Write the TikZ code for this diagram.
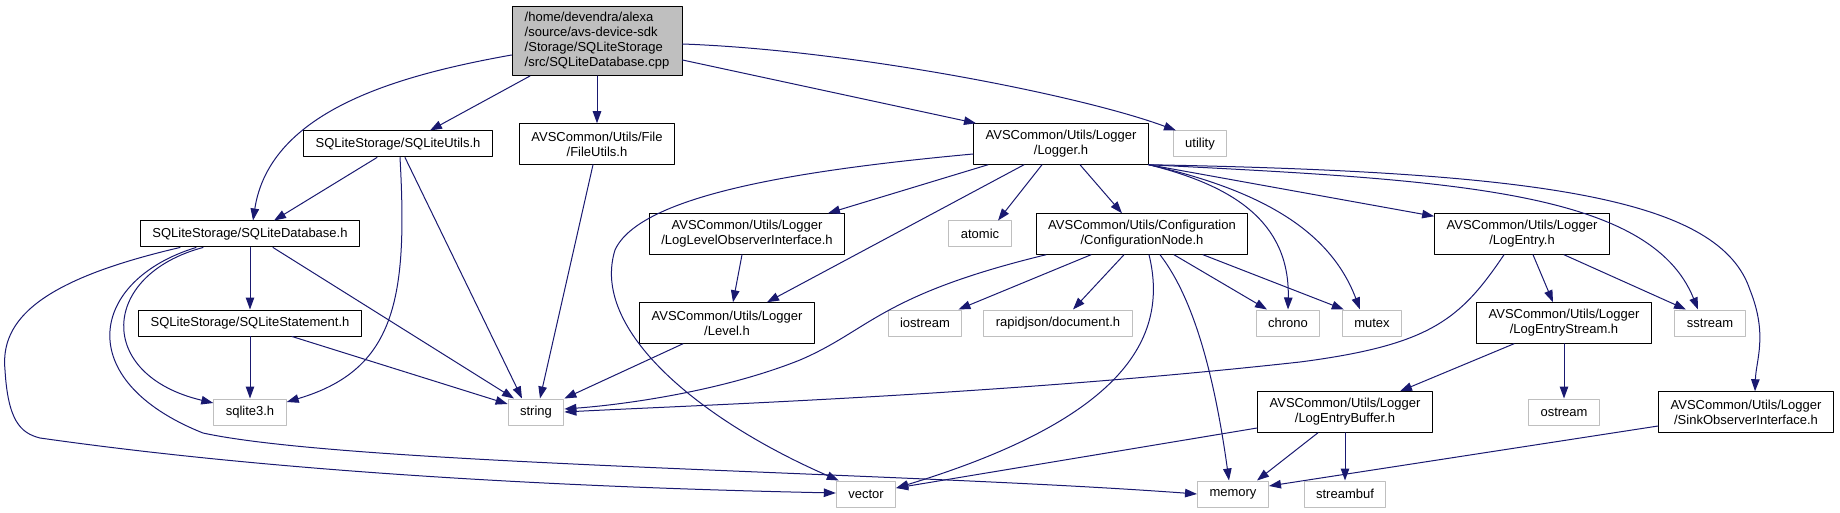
\documentclass[tikz,border=0pt]{standalone}
\usepackage{fontspec}
\setmainfont{Liberation Sans}
\usepackage{tikz}
\usetikzlibrary{arrows.meta}
\definecolor{edgeblue}{HTML}{191970}
\definecolor{extgray}{HTML}{BFBFBF}
\definecolor{rootgray}{HTML}{BFBFBF}
\tikzset{
  filebox/.style={draw=black, fill=white, line width=1pt, inner xsep=12pt, inner ysep=1pt,
    minimum height=26pt, align=center},
  twoline/.style={filebox, minimum height=40.5pt},
  extbox/.style={filebox, draw=extgray},
  incl/.style={draw=edgeblue, line width=1pt, -{Triangle[length=12pt,width=8.5pt]}}
}
\begin{document}
\begin{tikzpicture}[x=1pt, y=-1pt, line cap=round, line join=round, font=\fontsize{13pt}{15pt}\selectfont]
\useasboundingbox (0,0) rectangle (1840,513);

% --- File di partenza ---
\node[filebox, fill=rootgray, align=left, minimum width=170pt, minimum height=69pt] (root) at (597,41)
  {/home/devendra/alexa\\/source/avs-device-sdk\\/Storage/SQLiteStorage\\/src/SQLiteDatabase.cpp};

% --- Primo livello ---
\node[filebox] (sqlutils) at (398,144) {SQLiteStorage/SQLiteUtils.h};
\node[twoline] (fileutils) at (597,144) {AVSCommon/Utils/File\\/FileUtils.h};
\node[twoline] (logger) at (1061,144) {AVSCommon/Utils/Logger\\/Logger.h};
\node[extbox] (utility) at (1200,144) {utility};

% --- Secondo livello ---
\node[filebox] (sqldb) at (250,234) {SQLiteStorage/SQLiteDatabase.h};
\node[twoline] (lvlobs) at (747,234) {AVSCommon/Utils/Logger\\/LogLevelObserverInterface.h};
\node[extbox] (atomic) at (980,234) {atomic};
\node[twoline] (confnode) at (1142,234) {AVSCommon/Utils/Configuration\\/ConfigurationNode.h};
\node[twoline] (logentry) at (1522,234) {AVSCommon/Utils/Logger\\/LogEntry.h};

% --- Terzo livello ---
\node[filebox] (sqlstmt) at (250,323) {SQLiteStorage/SQLiteStatement.h};
\node[twoline] (level) at (727,323) {AVSCommon/Utils/Logger\\/Level.h};
\node[extbox] (iostream) at (925,323) {iostream};
\node[extbox] (rapidjson) at (1058,323) {rapidjson/document.h};
\node[extbox] (chrono) at (1288,323) {chrono};
\node[extbox] (mutex) at (1372,323) {mutex};
\node[twoline] (entrystream) at (1564,323) {AVSCommon/Utils/Logger\\/LogEntryStream.h};
\node[extbox] (sstream) at (1710,323) {sstream};

% --- Quarto livello ---
\node[extbox] (sqlite) at (250,412) {sqlite3.h};
\node[extbox] (string) at (536,412) {string};
\node[twoline] (entrybuffer) at (1345,412) {AVSCommon/Utils/Logger\\/LogEntryBuffer.h};
\node[extbox] (ostream) at (1564,412) {ostream};
\node[twoline] (sinkobs) at (1746,412) {AVSCommon/Utils/Logger\\/SinkObserverInterface.h};

% --- Ultimo livello ---
\node[extbox] (vector) at (866,494) {vector};
\node[extbox] (memory) at (1233,494) {memory};
\node[extbox] (streambuf) at (1345,494) {streambuf};

% --- Inclusioni del file di partenza ---
\draw[incl] ([yshift=-14pt]root.west) .. controls (400,75) and (270,110) .. ([xshift=3pt]sqldb.north);
\draw[incl] ([xshift=-67pt]root.south) -- ([xshift=32pt]sqlutils.north);
\draw[incl] (root.south) -- (fileutils.north);
\draw[incl] ([yshift=-19pt]root.east) -- ([xshift=-85pt]logger.north);
\draw[incl] ([yshift=-3pt]root.east) .. controls (850,50) and (1080,95) .. ([xshift=-24pt]utility.north);

% --- SQLiteUtils e FileUtils ---
\draw[incl] ([xshift=-21pt]sqlutils.south) -- ([xshift=24pt]sqldb.north);
\draw[incl] ([xshift=2pt]sqlutils.south) .. controls (408,300) and (395,370) .. ([yshift=10pt]sqlite.east);
\draw[incl] ([xshift=7pt]sqlutils.south) -- ([xshift=-14pt]string.north);
\draw[incl] ([xshift=-4pt]fileutils.south) -- ([xshift=4pt]string.north);

% --- SQLiteDatabase e SQLiteStatement ---
\draw[incl] (sqldb) -- (sqlstmt);
\draw[incl] ([xshift=-47pt]sqldb.south) .. controls (100,275) and (95,375) .. ([yshift=9pt]sqlite.west);
\draw[incl] ([xshift=23pt]sqldb.south) -- ([xshift=-22pt]string.north);
\draw[incl] ([xshift=-70pt]sqldb.south) .. controls (40,280) and (0,320) .. (5,370)
  .. controls (8,420) and (20,433) .. (40,438)
  .. controls (300,475) and (600,488) .. ([yshift=1pt]vector.west);
\draw[incl] ([xshift=-54pt]sqldb.south) .. controls (90,280) and (70,380) .. (203,433)
  .. controls (350,465) and (900,472) .. (memory.west);
\draw[incl] (sqlstmt) -- (sqlite);
\draw[incl] ([xshift=42pt]sqlstmt.south) -- ([yshift=8pt]string.west);

% --- Logger ---
\draw[incl] ([yshift=-10pt]logger.west) .. controls (800,170) and (640,195) .. (615,250)
  .. controls (590,330) and (700,420) .. ([xshift=3pt]vector.north west);
\draw[incl] ([xshift=-73pt]logger.south) -- ([xshift=81pt]lvlobs.north);
\draw[incl] ([xshift=-37pt]logger.south) -- ([xshift=40pt]level.north);
\draw[incl] ([xshift=-19pt]logger.south) -- ([xshift=18pt]atomic.north);
\draw[incl] ([xshift=19pt]logger.south) -- ([xshift=-20pt]confnode.north);
\draw[incl] (logger.south east) .. controls (1230,185) and (1290,220) .. (chrono.north);
\draw[incl] (logger.south east) .. controls (1260,190) and (1330,230) .. ([xshift=-12pt]mutex.north);
\draw[incl] (logger.south east) -- ([yshift=-3pt]logentry.north west);
\draw[incl] (logger.south east) .. controls (1450,180) and (1650,190) .. ([xshift=-12pt]sstream.north);
\draw[incl] (logger.south east) .. controls (1550,172) and (1720,200) .. (1750,290)
  .. controls (1768,335) and (1756,360) .. ([xshift=9pt]sinkobs.north);
\draw[incl] ([xshift=-5pt]lvlobs.south) -- ([xshift=6pt]level.north);
\draw[incl] ([xshift=-44pt]level.south) -- (string.north east);

% --- ConfigurationNode ---
\draw[incl] ([xshift=-96pt]confnode.south) .. controls (880,295) and (870,330) .. (800,360)
  .. controls (720,392) and (620,405) .. ([yshift=3pt]string.east);
\draw[incl] ([xshift=-51pt]confnode.south) -- ([xshift=-4pt]iostream.north east);
\draw[incl] ([xshift=-18pt]confnode.south) -- ([xshift=15pt]rapidjson.north);
\draw[incl] ([xshift=7pt]confnode.south) .. controls (1170,340) and (1120,420) .. ([yshift=6pt]vector.east);
\draw[incl] ([xshift=18pt]confnode.south) .. controls (1195,300) and (1215,380) .. ([xshift=-4pt]memory.north);
\draw[incl] ([xshift=32pt]confnode.south) -- ([xshift=-21pt]chrono.north);
\draw[incl] ([xshift=61pt]confnode.south) -- ([xshift=2pt]mutex.north west);

% --- LogEntry e buffer ---
\draw[incl] ([xshift=-18pt]logentry.south) .. controls (1460,320) and (1430,345) .. (1300,362)
  .. controls (1000,395) and (700,405) .. (string.east);
\draw[incl] ([xshift=11pt]logentry.south) -- ([xshift=-11pt]entrystream.north);
\draw[incl] ([xshift=42pt]logentry.south) -- ([xshift=-24pt]sstream.north);
\draw[incl] ([xshift=-50pt]entrystream.south) -- ([xshift=55pt]entrybuffer.north);
\draw[incl] (entrystream) -- (ostream);
\draw[incl] ([yshift=-16pt]entrybuffer.west) -- ([yshift=6pt]vector.east);
\draw[incl] ([xshift=-27pt]entrybuffer.south) -- ([xshift=24pt]memory.north);
\draw[incl] (entrybuffer) -- (streambuf);
\draw[incl] ([yshift=-14pt]sinkobs.west) -- ([yshift=8pt]memory.east);
\end{tikzpicture}
\end{document}
